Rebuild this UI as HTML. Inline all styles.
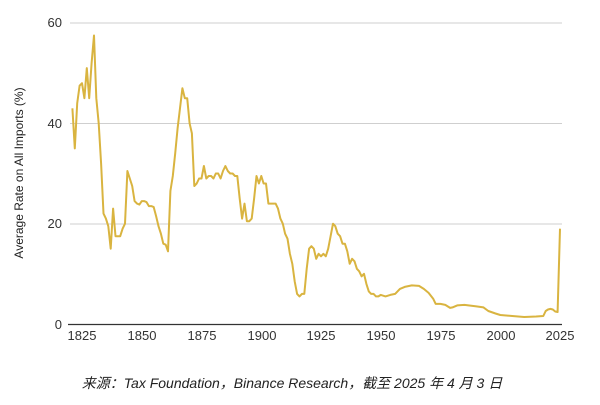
<!DOCTYPE html>
<html><head><meta charset="utf-8"><style>
body{margin:0;background:#fff;width:600px;height:405px;overflow:hidden}
svg{display:block}
</style></head><body>
<svg id="s" width="600" height="405" xmlns="http://www.w3.org/2000/svg" font-family="Liberation Sans, sans-serif">
<g stroke="#cfcfcf" stroke-width="1">
<line x1="70" x2="562" y1="23" y2="23"/>
<line x1="70" x2="562" y1="123.5" y2="123.5"/>
<line x1="70" x2="562" y1="224" y2="224"/>
</g>
<line x1="68" x2="562" y1="324.5" y2="324.5" stroke="#333" stroke-width="1.2"/>
<g font-size="13" fill="#333" text-anchor="end">
<text x="62" y="27">60</text><text x="62" y="128">40</text><text x="62" y="228">20</text><text x="62" y="329">0</text>
</g>
<g font-size="13" fill="#333" text-anchor="middle">
<text x="82" y="340">1825</text><text x="142" y="340">1850</text><text x="202" y="340">1875</text><text x="262" y="340">1900</text><text x="321" y="340">1925</text><text x="381" y="340">1950</text><text x="441" y="340">1975</text><text x="501" y="340">2000</text><text x="560" y="340">2025</text>
</g>
<text transform="translate(23,173) rotate(-90)" font-size="12" fill="#222" text-anchor="middle">Average Rate on All Imports (%)</text>
<polyline id="p" fill="none" stroke="#d9b440" stroke-width="2" stroke-linejoin="round"/>
<text x="292" y="388" font-size="14" font-style="italic" fill="#222" text-anchor="middle" font-family="Liberation Sans, Noto Sans CJK SC, sans-serif">来源：Tax Foundation，Binance Research，截至 2025 年 4 月 3 日</text>
</svg>
<script>
var d=[[1821,43],[1822,35],[1823,44],[1824,47.5],[1825,48],[1826,45],[1827,51],[1828,45],[1829,52],[1830,57.5],[1831,45],[1832,40],[1833,32],[1834,22],[1835,21],[1836,19.5],[1837,15],[1838,23],[1839,17.5],[1840,17.5],[1841,17.5],[1842,19],[1843,20],[1844,30.5],[1845,29],[1846,27.5],[1847,24.5],[1848,24],[1849,23.8],[1850,24.5],[1851,24.5],[1852,24.3],[1853,23.5],[1854,23.5],[1855,23.3],[1856,21.5],[1857,19.5],[1858,18],[1859,16],[1860,15.8],[1861,14.5],[1862,26.5],[1863,29.5],[1864,34],[1865,39],[1866,43],[1867,47],[1868,45],[1869,45],[1870,40],[1871,38],[1872,27.5],[1873,28],[1874,29],[1875,29],[1876,31.5],[1877,29],[1878,29.5],[1879,29.5],[1880,29],[1881,30],[1882,30],[1883,29],[1884,30.5],[1885,31.5],[1886,30.5],[1887,30],[1888,30],[1889,29.5],[1890,29.5],[1891,25],[1892,21],[1893,24],[1894,20.5],[1895,20.5],[1896,21],[1897,25],[1898,29.5],[1899,28],[1900,29.5],[1901,28],[1902,28],[1903,24],[1904,24],[1905,24],[1906,24],[1907,23],[1908,21],[1909,20],[1910,18],[1911,17],[1912,14],[1913,12],[1914,8.5],[1915,6],[1916,5.5],[1917,6],[1918,6],[1919,11],[1920,15],[1921,15.5],[1922,15],[1923,13],[1924,14],[1925,13.5],[1926,14],[1927,13.5],[1928,15],[1929,17.5],[1930,20],[1931,19.5],[1932,18],[1933,17.5],[1934,16],[1935,16],[1936,14.5],[1937,12],[1938,13],[1939,12.5],[1940,11],[1941,10.5],[1942,9.5],[1943,10],[1944,8],[1945,6.5],[1946,6],[1947,6],[1948,5.5],[1949,5.5],[1950,5.8],[1952,5.5],[1954,5.8],[1956,6],[1958,7],[1960,7.4],[1963,7.7],[1966,7.6],[1968,7],[1970,6.2],[1972,5],[1973,4],[1975,4],[1977,3.8],[1979,3.2],[1980,3.3],[1982,3.7],[1985,3.8],[1990,3.5],[1993,3.3],[1995,2.6],[1998,2.1],[2000,1.8],[2005,1.6],[2010,1.4],[2015,1.5],[2018,1.6],[2019,2.6],[2020,2.9],[2021,3],[2022,2.9],[2023,2.5],[2024,2.4],[2025,19]];
document.getElementById('p').setAttribute('points',d.map(function(a){return (82+(a[0]-1825)*2.39).toFixed(1)+','+(324-a[1]*5.017).toFixed(1)}).join(' '));
</script>
</body></html>
